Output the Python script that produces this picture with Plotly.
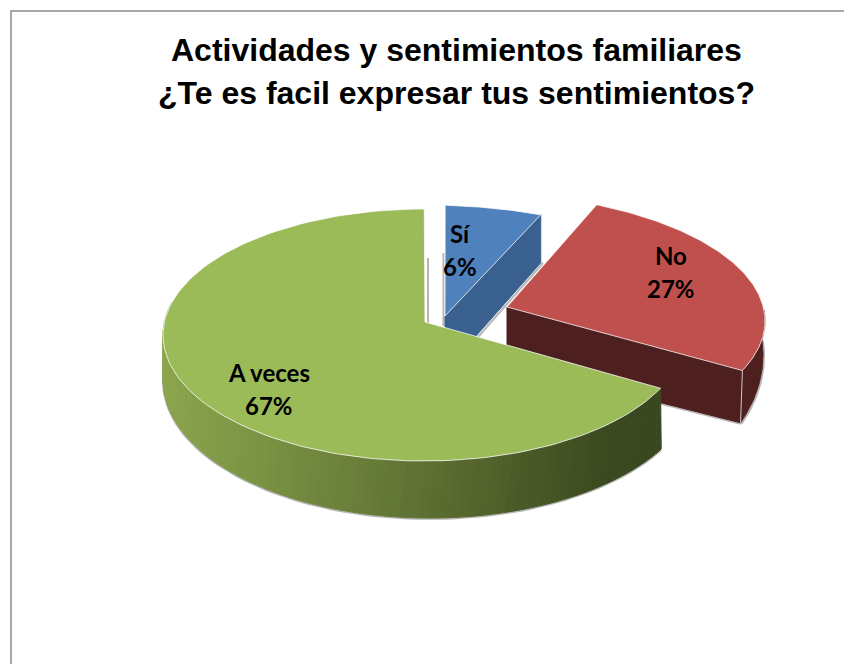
import numpy as np
import plotly.graph_objects as go

# chart data
title_lines = ["Actividades y sentimientos familiares", "¿Te es facil expresar tus sentimientos?"]
categories = ["Sí", "No", "A veces"]
shares = [6, 27, 67]
# ---------------------------------------------------------------------------

# look of the slices
top_colors = ["#4f81bd", "#c0504d", "#9bbb59"]
side_colors = ["#3a608f", "#4d1f1e", "#3d4a20"]
edge = "rgba(255,255,255,0.75)"
shadow = "rgba(90,90,90,0.45)"

# green side gradient, left to right
grad_x = [163, 250, 350, 450, 540, 610, 661]
grad_r = [140, 125, 108, 90, 72, 60, 58]
grad_g = [166, 150, 129, 108, 88, 74, 72]
grad_b = [78, 69, 59, 48, 38, 32, 32]

# perspective: every exploded slice sits on its own ellipse (cx, cy, rx, ry)
apex = [(445, 316), (507, 307), (425, 322)]
top_ell = [(425, 310, 275, 105), (475, 321, 290, 128), (424, 335, 261, 126)]
low_ell = [(425, 365, 275, 105), (475, 355, 288, 175), (430, 380, 267, 138)]
arc_start = [4.2, 24.8, 115.0]
squeeze = [0.958, 0.905, 1.016]
# ---------------------------------------------------------------------------

# func point on ellipse, angle clockwise from twelve o'clock
def arc(ell, deg):
  a = np.radians(deg)
  return ell[0] + ell[2] * np.sin(a), ell[1] - ell[3] * np.cos(a)

# func filled polygon
def poly(fig, x, y, color, line=None):
  fig.add_trace(go.Scatter(
    x=list(x) + [x[0]], y=list(y) + [y[0]], mode="lines", fill="toself", fillcolor=color,
    line=dict(color=line or color, width=1), hoverinfo="skip", showlegend=False,
  ))

# func plain line
def stroke(fig, x, y, color, width=1):
  fig.add_trace(go.Scatter(x=x, y=y, mode="lines", line=dict(color=color, width=width), hoverinfo="skip", showlegend=False))

# func upper face of a slice
def top_face(fig, i, a0, a1):
  ax, ay = arc(top_ell[i], np.linspace(a0, a1, 150))
  poly(fig, np.r_[apex[i][0], ax], np.r_[apex[i][1], ay], top_colors[i], edge)
# ---------------------------------------------------------------------------

fig = go.Figure()
spans = [s / sum(shares) * 360 * q for s, q in zip(shares, squeeze)]
ends = [a + s for a, s in zip(arc_start, spans)]

# soft shadows in the gaps
stroke(fig, [443.5, 443.5], [253, 326], shadow, 2)
stroke(fig, [428, 428], [258, 323], shadow, 2)
stroke(fig, [478, 543], [337, 263], shadow, 2)

# blue: cut face then top
bx, by = arc(top_ell[0], ends[0])
poly(fig, [apex[0][0], bx, bx, apex[0][0]], [apex[0][1], by, by + 48, apex[0][1] + 55], side_colors[0])
top_face(fig, 0, arc_start[0], ends[0])

# red: cut face, rim, top
rx, ry = arc(top_ell[1], ends[1])
low_x, low_y = arc(low_ell[1], ends[1])
t = np.linspace(ends[1], 85, 40)
ax, ay = arc(top_ell[1], t)
lx, ly = arc(low_ell[1], t)
stroke(fig, lx + 1, ly + 1, shadow, 2)
stroke(fig, [apex[1][0], low_x], [apex[1][1] + 58, low_y + 1], shadow, 2)
poly(fig, [apex[1][0], rx, low_x, apex[1][0]], [apex[1][1], ry, low_y, apex[1][1] + 57], side_colors[1])
poly(fig, np.r_[ax, lx[::-1]], np.r_[ay, ly[::-1]], side_colors[1])
stroke(fig, [rx, low_x], [ry, low_y], edge)
top_face(fig, 1, arc_start[1], ends[1])

# green: rim cut in strips to get the shading, then top
t = np.linspace(arc_start[2], 285, 80)
ax, ay = arc(top_ell[2], t)
lx, ly = arc(low_ell[2], np.interp(t, [arc_start[2], 285], [120, 285]))
stroke(fig, lx, ly + 1, shadow, 2)
for k in range(len(t) - 1):
  mid = (ax[k] + lx[k]) / 2
  col = "rgb(%d,%d,%d)" % (np.interp(mid, grad_x, grad_r), np.interp(mid, grad_x, grad_g), np.interp(mid, grad_x, grad_b))
  poly(fig, [ax[k], ax[k + 1], lx[k + 1], lx[k]], [ay[k], ay[k + 1], ly[k + 1], ly[k]], col)
top_face(fig, 2, arc_start[2], ends[2])
# ---------------------------------------------------------------------------

# title and slice labels
notes = [
  dict(x=456, y=50, text="<b>%s</b>" % title_lines[0], font=dict(family="Liberation Sans", size=32, color="black")),
  dict(x=456, y=93, text="<b>%s</b>" % title_lines[1], font=dict(family="Liberation Sans", size=32, color="black")),
]
label_pos = [(460, 233, 266), (671, 255, 288), (269, 372, 405)]
for name, share, pos in zip(categories, shares, label_pos):
  notes.append(dict(x=pos[0], y=pos[1], text="<b>%s</b>" % name, font=dict(family="Lato", size=24, color="black")))
  notes.append(dict(x=pos[0], y=pos[2], text="<b>%d%%</b>" % share, font=dict(family="Lato", size=24, color="black")))

# custom layout
fig.update_layout(
  width=844, height=664, margin=dict(l=0, r=0, t=0, b=0),
  paper_bgcolor="white", plot_bgcolor="white", showlegend=False,
  xaxis=dict(range=[0, 844], visible=False, fixedrange=True),
  yaxis=dict(range=[664, 0], visible=False, fixedrange=True),
  annotations=[dict(n, xref="x", yref="y", showarrow=False) for n in notes],
  shapes=[dict(type="path", path="M 844 11 L 11 11 L 11 664", line=dict(color="#8c8c8c", width=1.5))],
)

fig.write_html("out.html", config=dict(displayModeBar=False), post_script="document.body.style.margin='0';")
